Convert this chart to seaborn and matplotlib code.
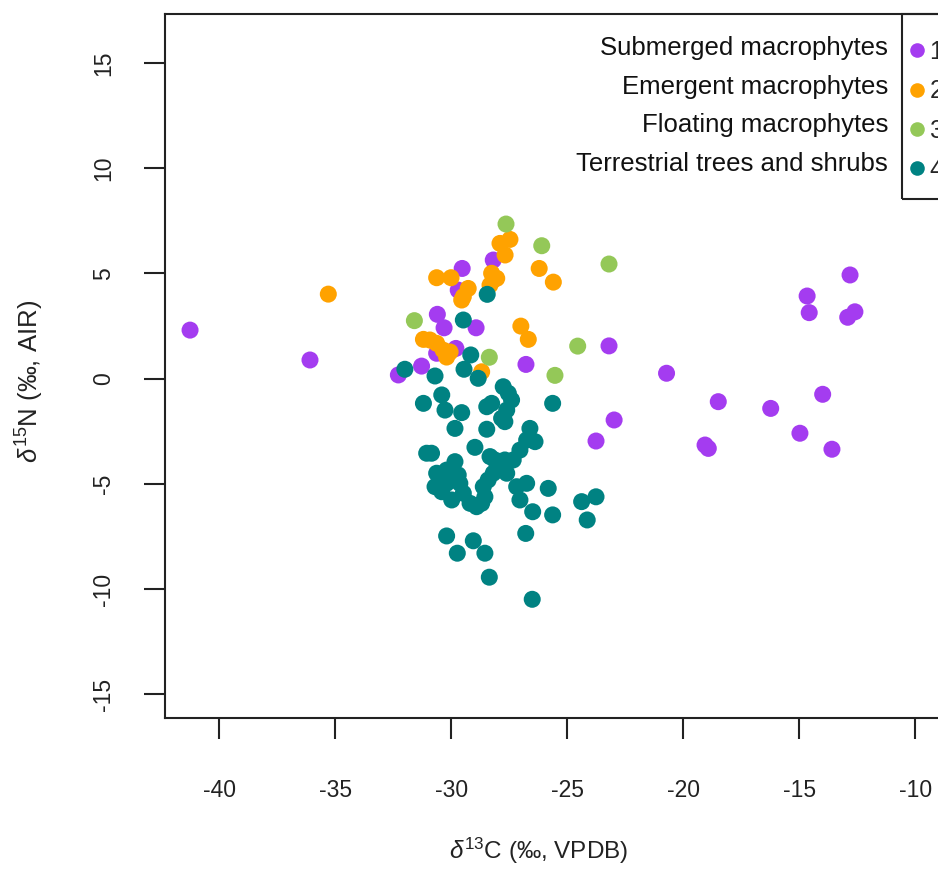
import pandas as pd
import matplotlib
matplotlib.use("Agg")
import matplotlib.pyplot as plt
from matplotlib.lines import Line2D
from matplotlib.patches import Rectangle
import seaborn as sns

# Werte
groups = ["Submerged macrophytes", "Emergent macrophytes",
          "Floating macrophytes", "Terrestrial trees and shrubs"]
codes = ["1", "2", "3", "4"]
colors = ["#A43CF0", "#FFA200", "#94C858", "#008282"]

sub_x = [-41.26, -36.09, -32.28, -31.28, -30.60, -30.31, -29.80, -30.63, -28.93, -29.53,
         -29.70, -28.19, -26.78, -23.20, -22.98, -23.76, -20.72, -18.49, -19.06, -18.92,
         -16.23, -13.99, -14.97, -13.59, -14.66, -14.57, -12.81, -12.91, -12.60]
sub_y = [2.30, 0.88, 0.17, 0.59, 3.05, 2.41, 1.43, 1.20, 2.41, 5.23,
         4.20, 5.63, 0.67, 1.55, -1.97, -2.97, 0.25, -1.10, -3.16, -3.32,
         -1.42, -0.75, -2.60, -3.36, 3.92, 3.13, 4.92, 2.91, 3.17]

emg_x = [-35.30, -31.20, -30.92, -30.63, -30.35, -30.20, -30.05, -28.69, -30.63, -30.01,
         -29.27, -29.48, -29.55, -28.26, -28.19, -28.33, -28.04, -27.90, -27.68, -27.47,
         -26.21, -25.60, -27.00, -26.68]
emg_y = [4.01, 1.86, 1.83, 1.67, 1.35, 1.02, 1.26, 0.32, 4.79, 4.79,
         4.28, 3.89, 3.73, 5.00, 4.68, 4.44, 4.76, 6.42, 5.87, 6.61,
         5.23, 4.58, 2.49, 1.86]

flt_x = [-31.59, -28.36, -27.64, -26.10, -23.20, -24.55, -25.53]
flt_y = [2.75, 1.01, 7.34, 6.31, 5.44, 1.54, 0.15]

ter_x = [-32.00, -30.70, -29.45, -28.84, -29.48, -29.16, -28.45, -31.20, -30.41, -30.27,
         -29.55, -29.84, -28.47, -28.26, -27.76, -27.54, -27.40, -27.61, -27.69, -27.83,
         -28.47, -25.63, -26.61, -26.39, -28.98, -30.85, -31.06, -30.63, -30.20, -29.84,
         -29.70, -30.70, -30.20, -29.63, -30.41, -29.98, -29.48, -29.19, -28.91, -28.33,
         -28.12, -27.90, -27.61, -28.19, -28.41, -28.62, -28.55, -28.69, -27.97, -27.33,
         -27.04, -26.75, -27.18, -27.04, -26.75, -27.69, -25.82, -26.49, -25.63, -24.38,
         -23.76, -24.14, -26.79, -30.20, -29.05, -29.74, -28.55, -28.36, -26.51]
ter_y = [0.44, 0.12, 0.44, 0.01, 2.78, 1.12, 4.00, -1.18, -0.78, -1.50,
         -1.62, -2.37, -1.34, -1.18, -0.39, -0.70, -1.02, -1.50, -2.05, -1.89,
         -2.41, -1.18, -2.37, -3.00, -3.27, -3.55, -3.55, -4.50, -4.35, -3.95,
         -4.58, -5.14, -4.98, -4.98, -5.38, -5.77, -5.45, -5.93, -6.09, -3.71,
         -3.87, -4.19, -4.50, -4.50, -4.82, -5.14, -5.62, -5.93, -4.03, -3.87,
         -3.40, -2.92, -5.14, -5.77, -4.98, -3.87, -5.22, -6.33, -6.48, -5.85,
         -5.62, -6.72, -7.36, -7.48, -7.71, -8.30, -8.30, -9.44, -10.49]

x_ticks = [-40, -35, -30, -25, -20, -15, -10]
y_ticks = [15, 10, 5, 0, -5, -10, -15]

frames = []
for g, xs, ys in zip(groups, [sub_x, emg_x, flt_x, ter_x], [sub_y, emg_y, flt_y, ter_y]):
    frames.append(pd.DataFrame({"d13C": xs, "d15N": ys, "group": g}))
df = pd.concat(frames, ignore_index=True)

sns.set_style("white")
plt.rcParams["font.family"] = ["Liberation Sans", "DejaVu Sans"]
plt.rcParams["mathtext.fontset"] = "custom"
plt.rcParams["mathtext.rm"] = "Liberation Sans"
plt.rcParams["mathtext.it"] = "Liberation Sans:italic"
plt.rcParams["axes.unicode_minus"] = False

fig = plt.figure(figsize=(9.38, 8.75), dpi=100)
# Achse reicht rechts ueber den Bildrand hinaus (wie im Original beschnitten)
ax = fig.add_axes([165 / 938, 1 - 718 / 875, (960 - 165) / 938, (718 - 14) / 875])

sns.scatterplot(data=df, x="d13C", y="d15N", hue="group", hue_order=groups,
                palette=dict(zip(groups, colors)), s=150, linewidth=0,
                legend=False, ax=ax)

ax.set_xlim(-42.34, -8.07)
ax.set_ylim(-16.13, 17.32)
ax.set_xticks(x_ticks)
ax.set_yticks(y_ticks)
for sp in ax.spines.values():
    sp.set_linewidth(1.5)
    sp.set_color("#222222")
ax.tick_params(axis="both", direction="out", length=15, width=1.5, color="#222222",
               labelsize=16.5, labelcolor="#222222")
ax.tick_params(axis="x", pad=29, bottom=True)
ax.tick_params(axis="y", pad=21, left=True, labelrotation=90)
for lab in ax.get_yticklabels():
    lab.set_va("center")

ax.set_xlabel(r"$\delta^{13}$C (‰, VPDB)", fontsize=17.5, color="#222222")
ax.set_ylabel(r"$\delta^{15}$N (‰, AIR)", fontsize=18.5, color="#222222")
ax.xaxis.set_label_coords((539 - 165) / 795, (718 - 836) / 704)
ax.yaxis.set_label_coords((46 - 165) / 795, (718 - 381) / 704)

# Legendenkasten oben rechts
fig.patches.append(Rectangle((902 / 938, 1 - 199 / 875), 0.2, (199 - 14) / 875,
                             transform=fig.transFigure, fill=False, edgecolor="#222222",
                             linewidth=1.5, clip_on=False))
handles = [Line2D([], [], linestyle="none", marker="o", markersize=10.5,
                  markerfacecolor=c, markeredgewidth=0) for c in colors]
fig.legend(handles, codes, loc="upper left", bbox_to_anchor=(907 / 938, 1 - 40 / 875),
           frameon=False, fontsize=18, handlelength=0.8, handletextpad=0.1,
           labelspacing=0.61, borderpad=0.0, borderaxespad=0.0)
row_y = [48, 87, 125, 164]
for g, yy in zip(groups, row_y):
    fig.text(888 / 938, 1 - yy / 875, g, ha="right", va="center", fontsize=18.5, color="#111111")

fig.savefig("out.png", dpi=100)
